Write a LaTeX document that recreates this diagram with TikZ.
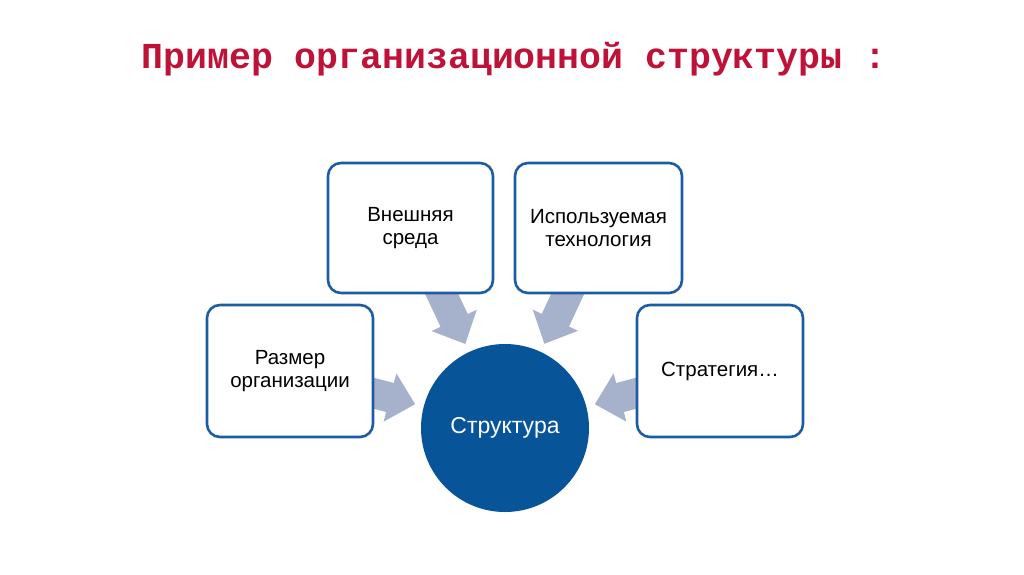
\documentclass[tikz,border=0pt]{standalone}
\usepackage{fontspec}
\setmainfont{Liberation Sans}
\newfontfamily\titlefont{Liberation Mono}
\usetikzlibrary{calc,backgrounds}
\definecolor{titlered}{RGB}{190,18,56}
\definecolor{boxblue}{RGB}{28,92,164}
\definecolor{circblue}{RGB}{8,84,153}
\definecolor{arrowgray}{RGB}{166,177,204}
\tikzset{
  infobox/.style={draw=boxblue, line width=2.6pt, rounded corners=13pt, fill=white,
    align=center, font=\fontsize{20.5}{23.5}\selectfont, inner sep=0pt,
    minimum width=165pt, minimum height=130pt},
  hub/.style={circle, fill=circblue, text=white, minimum size=168pt, inner sep=0pt,
    font=\fontsize{23}{26}\selectfont},
  titletext/.style={text=titlered, font=\titlefont\bfseries\fontsize{36.5}{40}\selectfont, anchor=base},
  blockarrowfill/.style={fill=arrowgray}
}
% #1 = hub node, #2 = source node
\newcommand\hubarrow[2]{%
  \coordinate (t) at ($(#1.center)!160pt!(#2.center)$);
  \coordinate (p) at ($(#1.center)!93pt!(#2.center)$);
  \coordinate (h) at ($(p)!26pt!(t)$);
  \fill[blockarrowfill] ($(t)!15pt!90:(p)$) -- ($(h)!15pt!-90:(t)$) -- ($(h)!25pt!-90:(t)$)
    -- (p) -- ($(h)!25pt!90:(t)$) -- ($(h)!15pt!90:(t)$) -- ($(t)!15pt!-90:(p)$) -- cycle;
}
\begin{document}
\begin{tikzpicture}[x=1pt,y=-1pt]
  \useasboundingbox (0,0) rectangle (1024,574);
  \node[titletext] (title) at (514,68) {Пример организационной структуры :};
  \node[infobox] (env) at (410.5,228) {Внешняя\\среда};
  \node[infobox, minimum width=167pt] (tech) at (598.5,228) {Используемая\\технология};
  \node[infobox, minimum width=166pt, minimum height=132pt] (size) at (290,371) {Размер\\организации};
  \node[infobox, minimum width=166pt, minimum height=132pt] (strat) at (720,371) {Стратегия…};
  \node[hub] (hub) at (505,428) {Структура};
  \begin{scope}[on background layer]
    \fill[white] (0,0) rectangle (1024,574);
    \hubarrow{hub}{size}
    \hubarrow{hub}{env}
    \hubarrow{hub}{tech}
    \hubarrow{hub}{strat}
  \end{scope}
\end{tikzpicture}
\end{document}
